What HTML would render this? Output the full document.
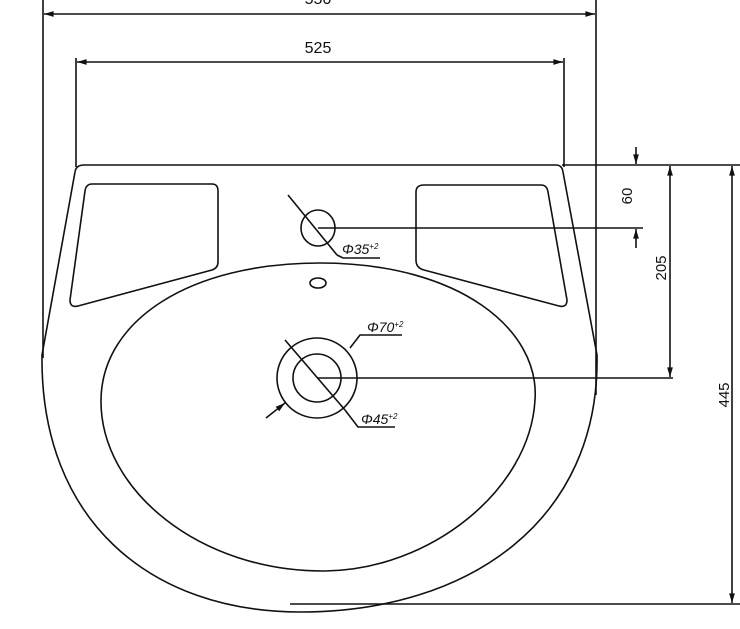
<!DOCTYPE html>
<html><head><style>
html,body{margin:0;padding:0;background:#fff;}
svg{display:block;}
text{font-family:"Liberation Sans",sans-serif;fill:#111;}
</style></head><body>
<svg width="740" height="629" viewBox="0 0 740 629" xmlns="http://www.w3.org/2000/svg">
<defs>
<marker id="a" viewBox="0 0 10 10" refX="10" refY="5" markerWidth="8" markerHeight="6" orient="auto-start-reverse"><path d="M0,2 L10,5 L0,8 z" fill="#111"/></marker>
</defs>
<g fill="none" stroke="#111" stroke-width="1.6">
<line x1="43" y1="0" x2="43" y2="358"/>
<line x1="596" y1="0" x2="596" y2="395"/>
<line x1="44" y1="14" x2="595" y2="14" marker-start="url(#a)" marker-end="url(#a)"/>
<line x1="76" y1="58" x2="76" y2="167"/>
<line x1="564" y1="58" x2="564" y2="167"/>
<line x1="77" y1="62" x2="563" y2="62" marker-start="url(#a)" marker-end="url(#a)"/>
<path d="M84,165 L556,165 Q562,165 563,172 L597,355 C600,520 470,612 300,612 C150,612 40,520 42,355 L75,172 Q76,165 84,165 Z"/>
<path d="M92,184 L212,184 Q218,184 218,191 L218,262 Q218,268 212,270 L78,306 Q70,308 70,300 L85,191 Q86,184 92,184 Z"/>
<path d="M424,185 L541,185 Q547,185 548,192 L567,300 Q567,308 559,306 L424,270 Q416,268 416,260 L416,192 Q416,185 424,185 Z"/>
<path d="M320,263 C460,263 540,330 535,400 C530,490 430,570 325,571 C200,572 100,490 101,400 C102,320 190,263 320,263 Z"/>
<ellipse cx="318" cy="283" rx="8" ry="5"/>
<ellipse cx="318" cy="228" rx="17" ry="18"/>
<line x1="288" y1="195" x2="337" y2="255"/>
<line x1="318" y1="228" x2="643" y2="228"/>
<polyline points="337,255 343,258 380,258"/>
<circle cx="317" cy="378" r="40"/>
<circle cx="317" cy="378" r="24"/>
<line x1="285" y1="340" x2="345" y2="410"/>
<line x1="317" y1="378" x2="673" y2="378"/>
<line x1="266" y1="418" x2="285" y2="403" marker-end="url(#a)"/>
<polyline points="350,348 360,335 402,335" />
<polyline points="345,410 358,427 395,427"/>
<line x1="636" y1="147" x2="636" y2="164" marker-end="url(#a)"/>
<line x1="636" y1="248" x2="636" y2="229" marker-end="url(#a)"/>
<line x1="562" y1="165" x2="740" y2="165"/>
<line x1="670" y1="166" x2="670" y2="377" marker-start="url(#a)" marker-end="url(#a)"/>
<line x1="732" y1="166" x2="732" y2="603" marker-start="url(#a)" marker-end="url(#a)"/>
<line x1="290" y1="604" x2="740" y2="604"/>
</g>
<text x="318" y="53" font-size="16" text-anchor="middle">525</text>
<text x="318" y="4" font-size="16" text-anchor="middle">550</text>
<text transform="translate(632,196) rotate(-90)" font-size="15" text-anchor="middle">60</text>
<text transform="translate(666,268) rotate(-90)" font-size="15" text-anchor="middle">205</text>
<text transform="translate(729,395) rotate(-90)" font-size="15" text-anchor="middle">445</text>
<text x="342" y="254" font-size="14" font-style="italic">Φ35<tspan font-size="8" dy="-5">+2</tspan></text>
<text x="367" y="332" font-size="14" font-style="italic">Φ70<tspan font-size="8" dy="-5">+2</tspan></text>
<text x="361" y="424" font-size="14" font-style="italic">Φ45<tspan font-size="8" dy="-5">+2</tspan></text>
</svg>
</body></html>
